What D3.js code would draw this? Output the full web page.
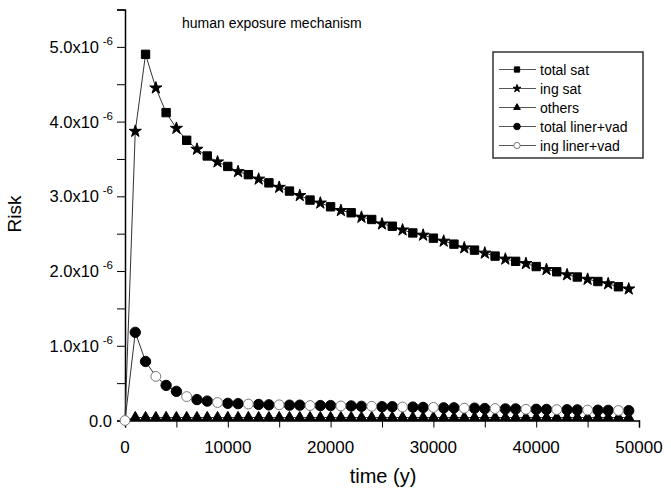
<!DOCTYPE html>
<html>
<head>
<meta charset="utf-8">
<script src="https://cdn.jsdelivr.net/npm/d3@7"></script>
<style>
  body { margin: 0; background: #fff; }
  svg { font-family: "Liberation Sans", Arial, sans-serif; }
</style>
</head>
<body>
<div id="chart"></div>
<script>
// time (y), one point every 1000 years
const years = [0, 1000, 2000, 3000, 4000, 5000, 6000, 7000, 8000, 9000,
  10000, 11000, 12000, 13000, 14000, 15000, 16000, 17000, 18000, 19000,
  20000, 21000, 22000, 23000, 24000, 25000, 26000, 27000, 28000, 29000,
  30000, 31000, 32000, 33000, 34000, 35000, 36000, 37000, 38000, 39000,
  40000, 41000, 42000, 43000, 44000, 45000, 46000, 47000, 48000, 49000];

// risk in units of 1e-6
// total sat and ing sat lie on the same curve (markers alternate)
const satRisk = [0, 3.87, 4.90, 4.45, 4.12, 3.91, 3.75, 3.63, 3.54, 3.46,
  3.40, 3.33, 3.29, 3.23, 3.18, 3.12, 3.07, 3.01, 2.95, 2.91,
  2.86, 2.81, 2.78, 2.72, 2.69, 2.63, 2.60, 2.55, 2.51, 2.48,
  2.44, 2.40, 2.36, 2.31, 2.28, 2.24, 2.20, 2.16, 2.13, 2.10,
  2.06, 2.02, 1.99, 1.95, 1.92, 1.89, 1.86, 1.83, 1.79, 1.76];

// total liner+vad and ing liner+vad coincide as well
const linerRisk = [0, 1.18, 0.79, 0.59, 0.47, 0.39, 0.32, 0.28, 0.26, 0.24,
  0.23, 0.225, 0.22, 0.215, 0.21, 0.21, 0.205, 0.205, 0.20, 0.20,
  0.20, 0.195, 0.195, 0.19, 0.19, 0.185, 0.185, 0.18, 0.18, 0.175,
  0.175, 0.17, 0.17, 0.165, 0.165, 0.16, 0.16, 0.155, 0.155, 0.15,
  0.15, 0.148, 0.146, 0.144, 0.142, 0.14, 0.138, 0.136, 0.134, 0.132];

const othersRisk = [0, 0.04, 0.04, 0.04, 0.04, 0.04, 0.04, 0.04, 0.04, 0.04,
  0.04, 0.04, 0.04, 0.04, 0.04, 0.04, 0.04, 0.04, 0.04, 0.04,
  0.04, 0.04, 0.04, 0.04, 0.04, 0.04, 0.04, 0.04, 0.04, 0.04,
  0.04, 0.04, 0.04, 0.04, 0.04, 0.04, 0.04, 0.04, 0.04, 0.04,
  0.04, 0.04, 0.04, 0.04, 0.04, 0.04, 0.04, 0.04, 0.04, 0.04];

const seriesNames = ["total sat", "ing sat", "others", "total liner+vad", "ing liner+vad"];
const xTicks = [0, 10000, 20000, 30000, 40000, 50000];
const yTicks = [0, 1, 2, 3, 4, 5];

const width = 671, height = 488;
const plotLeft = 125, plotRight = 639, plotTop = 9.5, plotBottom = 420.5;

const svg = d3.select("#chart").append("svg")
  .attr("width", width)
  .attr("height", height);

const x = d3.scaleLinear().domain([0, 50000]).range([plotLeft, plotRight]);
const y = d3.scaleLinear().domain([0, 5.5]).range([plotBottom, plotTop]);

// axes
const xAxis = svg.append("g")
  .attr("transform", `translate(0,${plotBottom})`)
  .call(d3.axisBottom(x).tickValues(d3.range(0, 50001, 5000)).tickSize(7).tickFormat(""));
xAxis.select(".domain").attr("stroke-width", 1.5);

svg.append("g").selectAll("text")
  .data(xTicks)
  .join("text")
  .attr("x", d => x(d))
  .attr("y", 453)
  .attr("text-anchor", "middle")
  .attr("font-size", 17)
  .text(d => d);

const yAxis = svg.append("g")
  .attr("transform", `translate(${plotLeft},0)`)
  .call(d3.axisLeft(y).tickValues(d3.range(0, 5.51, 0.5)).tickSize(8).tickFormat(""));
yAxis.select(".domain").attr("stroke-width", 1.5);

const yLab = svg.append("g").selectAll("text")
  .data(yTicks)
  .join("text")
  .attr("x", d => d === 0 ? 112 : 99)
  .attr("y", d => y(d) + 6)
  .attr("text-anchor", "end")
  .attr("font-size", 16.5)
  .text(d => d === 0 ? "0.0" : d.toFixed(1) + "x10");
yLab.filter(d => d !== 0).append("tspan")
  .attr("x", 113)
  .attr("dy", -8)
  .attr("text-anchor", "end")
  .attr("font-size", 11.5)
  .text("-6");

svg.append("text")
  .attr("transform", "translate(21,214) rotate(-90)")
  .attr("text-anchor", "middle")
  .attr("font-size", 19)
  .text("Risk");

svg.append("text")
  .attr("x", 383)
  .attr("y", 483)
  .attr("text-anchor", "middle")
  .attr("font-size", 20)
  .text("time (y)");

svg.append("text")
  .attr("x", 182)
  .attr("y", 28)
  .attr("font-size", 14)
  .text("human exposure mechanism");

// lines
const line = d3.line().x(d => x(d[0])).y(d => y(d[1]));
function drawLine(vals) {
  svg.append("path")
    .datum(years.map((t, i) => [t, vals[i]]))
    .attr("d", line)
    .attr("fill", "none")
    .attr("stroke", "#333")
    .attr("stroke-width", 1);
}
drawLine(othersRisk);
drawLine(linerRisk);
drawLine(satRisk);

// marker styles
const markers = {
  "total sat": { type: d3.symbolSquare, size: 70, fill: "#000", stroke: "#000" },
  "ing sat": { type: d3.symbolStar, size: 46, fill: "#000", stroke: "#000" },
  "others": { type: d3.symbolTriangle, size: 48, fill: "#000", stroke: "#000" },
  "total liner+vad": { type: d3.symbolCircle, size: 84, fill: "#000", stroke: "#000" },
  "ing liner+vad": { type: d3.symbolCircle, size: 76, fill: "#fff", stroke: "#777" }
};

function drawMarkers(name, vals, keep) {
  const m = markers[name];
  const pts = years.map((t, i) => ({ t, v: vals[i], i })).filter(keep);
  svg.append("g").selectAll("path")
    .data(pts)
    .join("path")
    .attr("transform", d => `translate(${x(d.t)},${y(d.v)})`)
    .attr("d", d3.symbol(m.type, m.size))
    .attr("fill", m.fill)
    .attr("stroke", m.stroke)
    .attr("stroke-width", 1);
}

drawMarkers("others", othersRisk, d => d.i > 0);
drawMarkers("total liner+vad", linerRisk, d => d.i > 0 && d.i % 3 !== 0);
drawMarkers("ing liner+vad", linerRisk, d => d.i % 3 === 0);
drawMarkers("total sat", satRisk, d => d.i > 0 && d.i % 2 === 0);
drawMarkers("ing sat", satRisk, d => d.i % 2 === 1);

// legend
const legend = svg.append("g");
legend.append("rect")
  .attr("x", 493).attr("y", 52)
  .attr("width", 150).attr("height", 106)
  .attr("fill", "#fff")
  .attr("stroke", "#333")
  .attr("stroke-width", 1.5);

const entry = legend.selectAll("g.entry")
  .data(seriesNames)
  .join("g")
  .attr("class", "entry")
  .attr("transform", (d, i) => `translate(0,${69.5 + i * 19})`);

entry.append("line")
  .attr("x1", 499).attr("x2", 536)
  .attr("stroke", "#555")
  .attr("stroke-width", 1);
entry.append("path")
  .attr("transform", "translate(517,0)")
  .attr("d", d => d3.symbol(markers[d].type, markers[d].size * 0.4)())
  .attr("fill", d => markers[d].fill)
  .attr("stroke", d => markers[d].stroke);
entry.append("text")
  .attr("x", 540)
  .attr("y", 5)
  .attr("font-size", 14)
  .text(d => d);
</script>
</body>
</html>
